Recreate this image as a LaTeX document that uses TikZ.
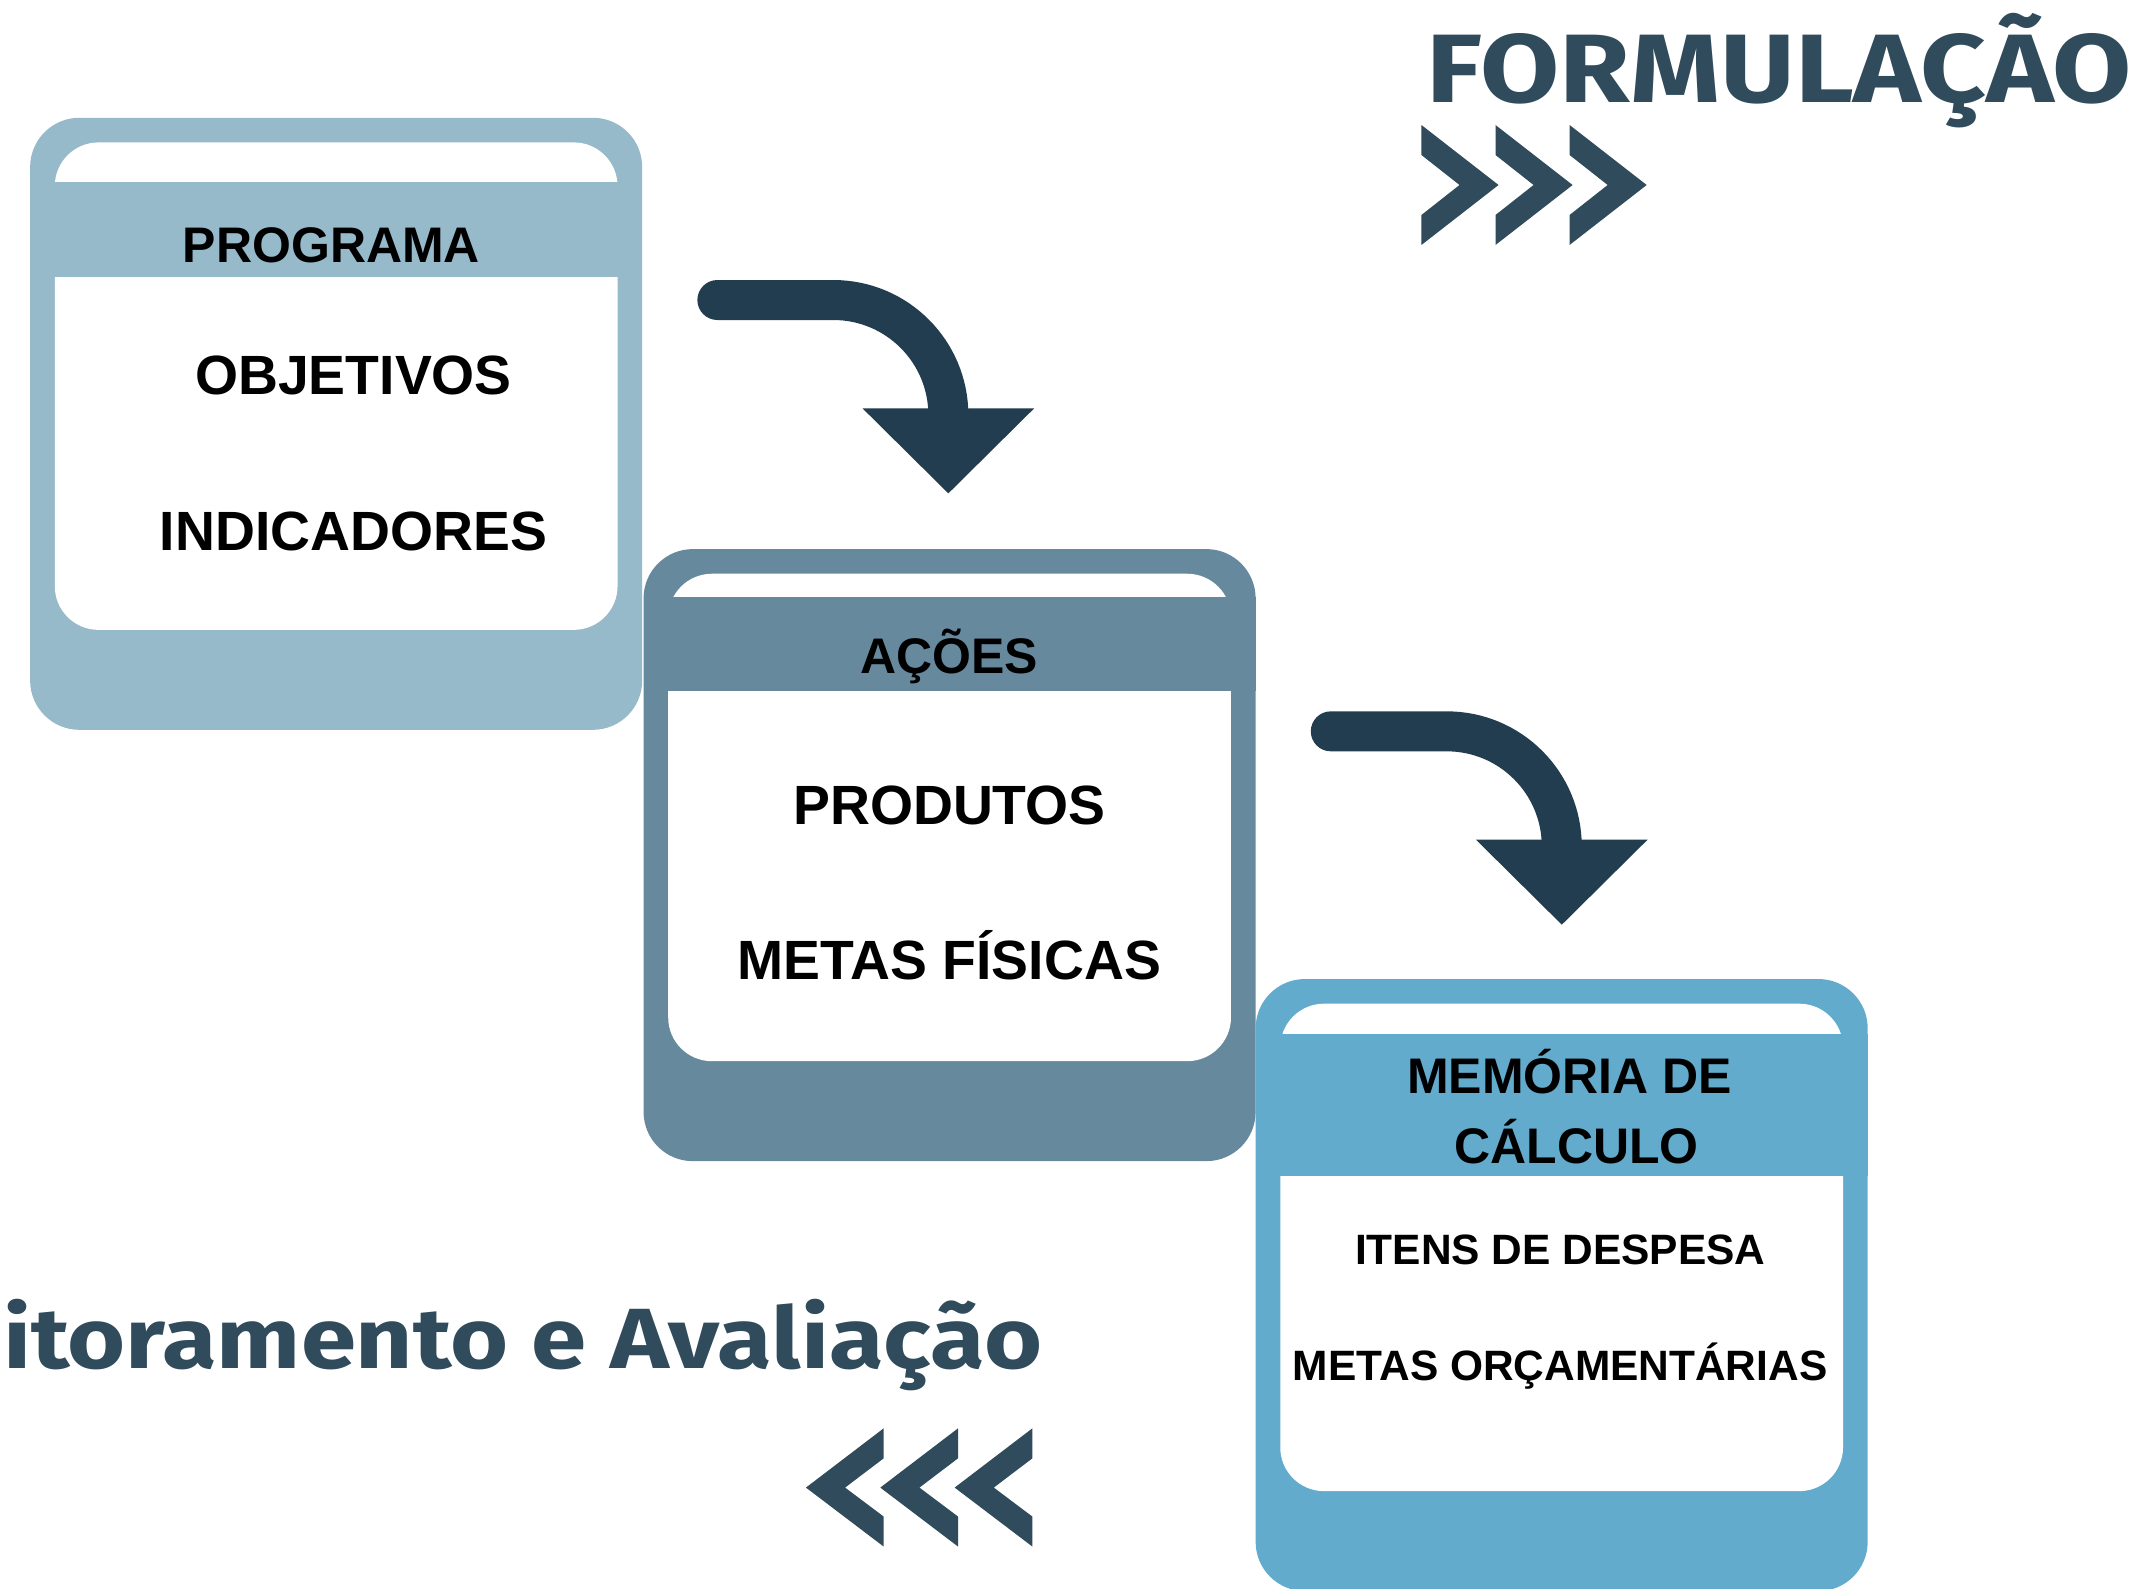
\documentclass[tikz,border=0pt]{standalone}
\usepackage{graphicx}
\usepackage{fontspec}
\setmainfont{Liberation Sans}
\newfontfamily\fira{Fira Sans}
\definecolor{cA}{RGB}{151,186,203}
\definecolor{cB}{RGB}{102,137,157}
\definecolor{cC}{RGB}{98,171,204}
\definecolor{arr}{RGB}{33,61,79}
\definecolor{ttl}{RGB}{48,75,91}
\newcommand\drawbox[6]{%
  \node[outerbox, fill=#4] (#1) at (#2+223.5,#3+223.5) {};
  \fill[white, rounded corners=32pt] (#2+18,#3+18) rectangle (#2+429,#3+374);
  \fill[#4] (#2,#3+#5) rectangle (#2+447,#3+#6);
}
\begin{document}
\begin{tikzpicture}[x=1pt,y=-1pt,
  outerbox/.style={rectangle, rounded corners=36pt, minimum width=447pt, minimum height=447pt, inner sep=0pt, draw=none},
  hdr/.style={font=\bfseries\fontsize{36.5}{40}\selectfont, anchor=base, inner sep=0pt},
  item/.style={font=\bfseries\fontsize{40.4}{44}\selectfont, anchor=base, inner sep=0pt},
  itemsm/.style={font=\bfseries\fontsize{31}{34}\selectfont, anchor=base, inner sep=0pt},
  shaft/.style={draw=arr, line width=29.2pt, line cap=round},
  head/.style={fill=arr},
  chev/.style={fill=ttl},
  title/.style={anchor=base west, inner sep=0pt, text=ttl}
]
\useasboundingbox (0,0) rectangle (1568,1160);
\clip (0,0) rectangle (1568,1160);
\fill[white] (0,0) rectangle (1568,1160);

% boxes
\drawbox{prog}{22}{86}{cA}{47}{116}
\drawbox{acoes}{470}{401}{cB}{35}{104}
\drawbox{mem}{917}{715}{cC}{40.4}{143.8}

% box texts
\node[hdr] (t1) at (242,192) {PROGRAMA};
\node[item] (t2) at (258.2,288.2) {OBJETIVOS};
\node[item] (t3) at (258.2,401.7) {INDICADORES};

\node[hdr] (t4) at (693.3,492) {AÇÕES};
\node[item] (t5) at (693.4,602.1) {PRODUTOS};
\node[item] (t6) at (693.4,715.7) {METAS FÍSICAS};

\node[hdr] (t7) at (1146.4,798.6) {MEMÓRIA DE};
\node[hdr] (t8) at (1151.4,849.6) {CÁLCULO};
\node[itemsm] (t9) at (1139.5,923.2) {ITENS DE DESPESA};
\node[itemsm] (t10) at (1139.4,1008.3) {METAS ORÇAMENTÁRIAS};

% curved arrows
\coordinate (a1s) at (523.9,219.1);
\coordinate (a1e) at (692.6,360.3);
\draw[shaft] (a1s) -- ++(84.7,0) arc[start angle=-90,end angle=0,radius=84] -- ++(0,6);
\fill[head] (a1e) -- ++(-62.7,-62.1) -- ++(125.4,0) -- cycle;

\coordinate (a2s) at (971.9,534.1);
\coordinate (a2e) at (1140.6,675.3);
\draw[shaft] (a2s) -- ++(84.7,0) arc[start angle=-90,end angle=0,radius=84] -- ++(0,6);
\fill[head] (a2e) -- ++(-62.7,-62.1) -- ++(125.4,0) -- cycle;

% titles
\node[title, font=\fira\bfseries\fontsize{71}{75}\selectfont] (formu) at (1041.5,74.7) {\scalebox{1.18}[1]{FORMULAÇÃO}};
\node[title, font=\fira\bfseries\fontsize{62.4}{66}\selectfont] (monit) at (2,999.3) {\scalebox{1.165}[1]{itoramento e Avaliação}};

% chevrons
\foreach \i in {0,1,2} {
  \fill[chev] (1038.1+54.1*\i,91.3) -- (1038.1+54.1*\i+56.3,135.1) -- (1038.1+54.1*\i,178.9)
    -- (1038.1+54.1*\i,157) -- (1038.1+54.1*\i+27.8,135.1) -- (1038.1+54.1*\i,113.2) -- cycle;
  \fill[chev] (645.4+54.3*\i,1043.1) -- (645.4+54.3*\i-56.8,1086.4) -- (645.4+54.3*\i,1129.5)
    -- (645.4+54.3*\i,1107.6) -- (645.4+54.3*\i-28.2,1086.4) -- (645.4+54.3*\i,1065) -- cycle;
}
\end{tikzpicture}
\end{document}
